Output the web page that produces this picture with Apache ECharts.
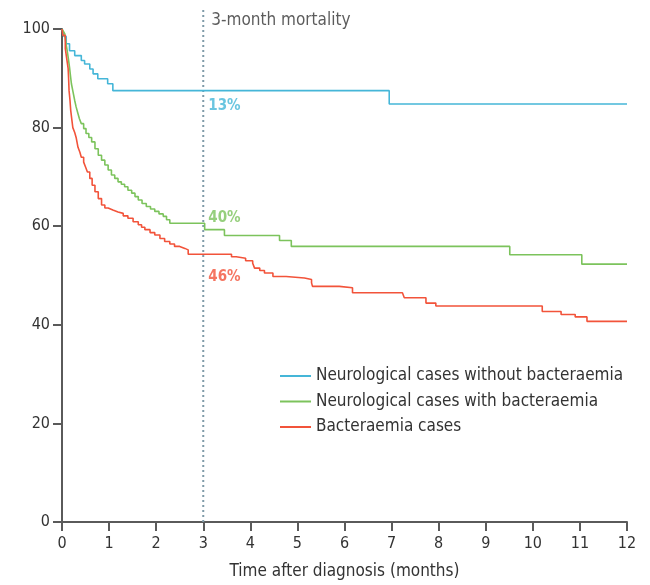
<!DOCTYPE html>
<html><head><meta charset="utf-8">
<script src="https://cdn.jsdelivr.net/npm/echarts@6/dist/echarts.min.js"></script>
<style>html,body{margin:0;padding:0;background:#fff}#c{width:650px;height:585px}</style>
</head><body><div id="c"></div>
<script>
var seriesNames = ['Neurological cases without bacteraemia','Neurological cases with bacteraemia','Bacteraemia cases'];
var blueT = [0,0.04,0.09,0.16,0.27,0.41,0.48,0.59,0.66,0.76,0.97,1.08,6.95,12];
var blueV = [100,98.5,97,95.6,94.6,93.6,92.9,91.9,90.9,89.9,88.9,87.5,84.8,84.8];
var greenT = [0,0.03,0.06,0.08,0.11,0.135,0.16,0.18,0.2,0.235,0.27,0.3,0.34,0.37,0.41,0.46,0.51,0.57,0.63,0.7,0.77,0.84,0.91,0.98,1.05,1.12,1.19,1.26,1.33,1.4,1.48,1.55,1.62,1.7,1.79,1.88,1.97,2.06,2.15,2.22,2.29,3.03,3.45,4.62,4.87,9.51,11.04,12];
var greenV = [100,99.5,99,97.3,95.6,94,92.2,90.5,88.9,87.2,85.5,84.2,82.8,81.8,80.8,79.8,78.8,78,77.1,75.7,74.4,73.4,72.4,71.4,70.4,69.7,69,68.5,68,67.3,66.7,66,65.3,64.6,64,63.5,63,62.5,62,61.3,60.6,59.3,58.1,57.1,55.9,54.2,52.3,52.3];
var redT = [0,0.02,0.07,0.1,0.13,0.14,0.15,0.17,0.185,0.21,0.23,0.27,0.3,0.34,0.38,0.41,0.46,0.5,0.54,0.59,0.64,0.7,0.77,0.84,0.91,0.98,1.08,1.19,1.3,1.4,1.51,1.62,1.69,1.76,1.87,1.97,2.08,2.18,2.29,2.39,2.5,2.61,2.68,3.6,3.7,3.9,4.05,4.09,4.2,4.3,4.48,4.76,5.15,5.3,5.32,5.89,6.17,7.23,7.27,7.73,7.94,10.2,10.6,10.9,11.15,12];
var redV = [100,98.7,96,94,92,90,87.5,85.5,83.5,81.5,80,79,78,76,75,74,73,72,71,69.7,68.3,67,65.6,64.3,63.7,63.3,62.9,62.6,62.1,61.6,60.9,60.3,59.8,59.3,58.7,58.2,57.5,56.9,56.4,55.9,55.5,55.2,54.3,53.8,53.5,53,52.5,51.5,51,50.5,49.8,49.5,49.2,48.5,47.8,47.5,46.5,46.1,45.5,44.4,43.8,42.7,42.1,41.6,40.7,40.7];
var xTicks = [0,1,2,3,4,5,6,7,8,9,10,11,12];
var yTicks = [0,20,40,60,80,100];
var markTime = 3;
var markLabels = ['13%','40%','46%'];
var markLabelY = [84.4,61.6,49.6];
var markTitle = '3-month mortality';

var colors = ['#45b6d8','#7cc35c','#f2533a'];
var font = "'Liberation Sans Narrow','DejaVu Sans Condensed','Liberation Sans',sans-serif";
function zip(t,v){return t.map(function(x,i){return [x,v[i]];});}

var chart = echarts.init(document.getElementById('c'));
var curves = [zip(blueT,blueV), zip(greenT,greenV), zip(redT,redV)];
var series = curves.map(function(d,i){
  return {name:seriesNames[i],type:'line',step:'end',data:d,symbol:'none',
    lineStyle:{color:colors[i],width:1.6},itemStyle:{color:colors[i]},z:3,animation:false};
});
series.push({type:'line',data:[[markTime,0],[markTime,104]],symbol:'none',clip:false,silent:true,z:2,
  lineStyle:{color:'#7f9aa8',width:2,type:[2,3]},animation:false});
series.push({type:'scatter',symbolSize:0,clip:false,silent:true,animation:false,
  data:markLabels.map(function(l,i){return {value:[markTime,markLabelY[i]],
    label:{show:true,formatter:l,position:'right',distance:5,color:colors[i],fontSize:15,fontWeight:'bold',fontFamily:font}};})});
series.push({type:'scatter',symbolSize:0,clip:false,silent:true,animation:false,
  data:[{value:[markTime,100],label:{show:true,formatter:markTitle,position:'right',distance:8,offset:[0,-8],color:'#333',fontSize:17,fontFamily:font}}]});

chart.setOption({
  animation:false,
  grid:{left:62,right:23,top:29,bottom:58,containLabel:false},
  legend:{data:seriesNames,orient:'vertical',left:280,top:366,padding:0,icon:'rect',itemWidth:31,itemHeight:2,itemGap:5.5,
    textStyle:{color:'#333',fontSize:17,lineHeight:20,fontFamily:font}},
  xAxis:{type:'value',min:0,max:12,interval:1,name:'Time after diagnosis (months)',nameLocation:'middle',nameGap:41,
    nameTextStyle:{color:'#333',fontSize:17,fontFamily:font},
    axisLine:{lineStyle:{color:'#5a5a5a',width:2}},axisTick:{show:true,length:9,lineStyle:{color:'#5a5a5a',width:2}},
    axisLabel:{color:'#333',fontSize:16,fontFamily:font,margin:14,formatter:function(v){return xTicks.indexOf(v)>=0?String(v):'';}},
    splitLine:{show:false}},
  yAxis:{type:'value',min:0,max:100,interval:20,
    axisLine:{show:true,lineStyle:{color:'#5a5a5a',width:2}},axisTick:{show:true,length:9,lineStyle:{color:'#5a5a5a',width:2}},
    axisLabel:{color:'#333',fontSize:16,fontFamily:font,margin:12,formatter:function(v){return yTicks.indexOf(v)>=0?String(v):'';}},
    splitLine:{show:false}},
  series:series
});
</script></body></html>
